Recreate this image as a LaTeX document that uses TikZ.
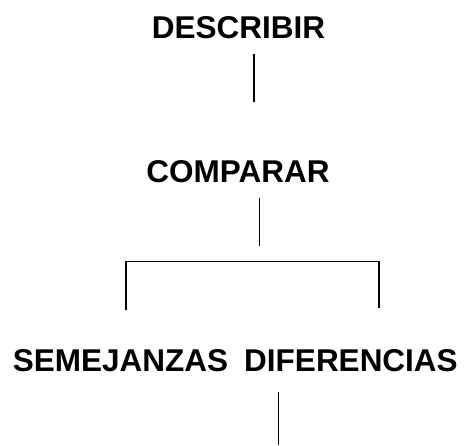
\documentclass[tikz,border=0pt]{standalone}
\usepackage{fontspec}
\setmainfont{Liberation Sans}
\begin{document}
\begin{tikzpicture}[x=1pt,y=-1pt,
  lbl/.style={font=\fontsize{31.5}{36}\selectfont\bfseries, inner sep=0pt, anchor=base},
  conn/.style={line width=1.2pt, black}]
\useasboundingbox (0,0) rectangle (466,445);
\node[lbl] (describir) at (238.5,38.3) {DESCRIBIR};
\node[lbl] (comparar) at (238,182) {COMPARAR};
\node[lbl] (semejanzas) at (120.5,371.7) {SEMEJANZAS};
\node[lbl] (diferencias) at (351,371.7) {DIFERENCIAS};
\coordinate (a1) at (254,54);
\coordinate (a2) at (254,101.7);
\coordinate (b1) at (259.7,198);
\coordinate (b2) at (259.7,246);
\coordinate (hl) at (126,261.7);
\coordinate (hr) at (379,261.7);
\coordinate (l2) at (126,310);
\coordinate (r2) at (379,308);
\coordinate (d1) at (278.3,391.7);
\coordinate (d2) at (278.3,445);
\draw[conn] (a1) -- (a2);
\draw[conn] (b1) -- (b2);
\draw[conn] (l2) -- (hl) -- (hr);
\draw[conn] (hr |- 260.7,260.7) -- (r2);
\draw[conn] (d1) -- (d2);
\end{tikzpicture}
\end{document}
